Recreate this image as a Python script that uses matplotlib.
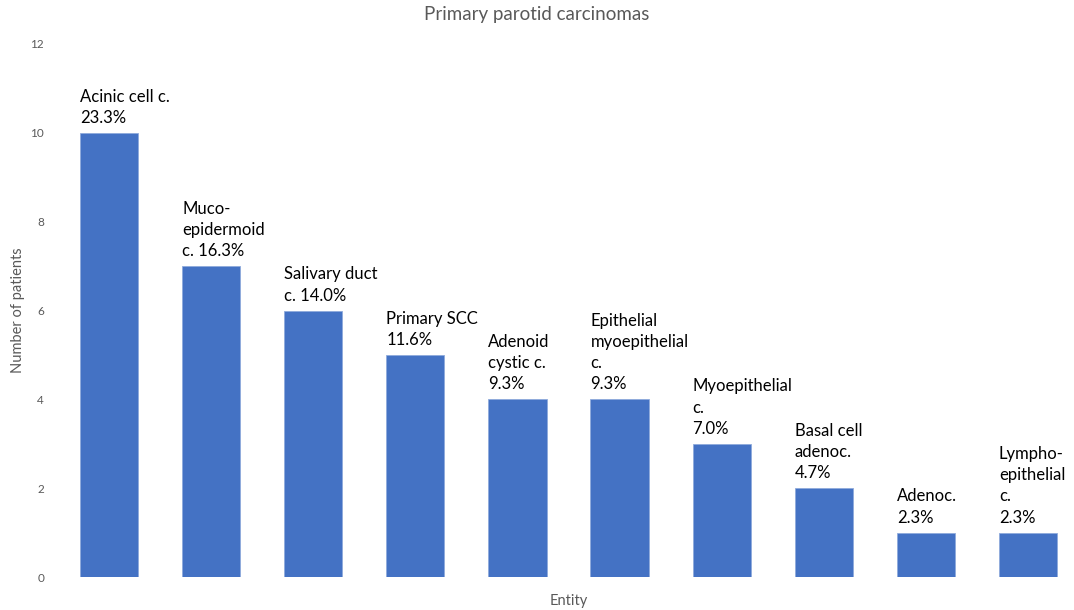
import matplotlib.pyplot as plt

plt.rcParams['font.family'] = ['Lato', 'DejaVu Sans']

# Распределение первичных карцином околоушной железы
entities = ['Acinic cell c.', 'Mucoepidermoid c.', 'Salivary duct c.', 'Primary SCC',
            'Adenoid cystic c.', 'Epithelial myoepithelial c.', 'Myoepithelial c.',
            'Basal cell adenoc.', 'Adenoc.', 'Lymphoepithelial c.']
patients = [10, 7, 6, 5, 4, 4, 3, 2, 1, 1]
percent = [23.3, 16.3, 14.0, 11.6, 9.3, 9.3, 7.0, 4.7, 2.3, 2.3]
# Подписи с переносами строк; процент дописывается в конец
label_text = ['Acinic cell c.\n', 'Muco-\nepidermoid\nc. ', 'Salivary duct\nc. ', 'Primary SCC\n',
              'Adenoid\ncystic c.\n', 'Epithelial\nmyoepithelial\nc.\n', 'Myoepithelial\nc.\n',
              'Basal cell\nadenoc.\n', 'Adenoc.\n', 'Lympho-\nepithelial\nc.\n']

fig = plt.figure(figsize=(10.74, 6.10), dpi=100)
ax = fig.add_axes([58 / 1074, 33 / 610, 1021 / 1074, 533 / 610])

x = range(len(patients))
bars = ax.bar(x, patients, width=0.57, color='#4472C4', edgecolor='#8FAADC', linewidth=0.6)

for i, b in enumerate(bars):
    txt = label_text[i] + f'{percent[i]:.1f}%'
    ax.annotate(txt, (b.get_x(), b.get_height()), xytext=(0, 5), textcoords='offset points',
                ha='left', va='bottom', fontsize=12, color='black', linespacing=1.4)

ax.set_ylim(0, 12)
ax.set_xlim(-0.5, 9.5)
ax.set_yticks(range(0, 13, 2))
ax.set_xticks([])
ax.tick_params(axis='y', length=0, labelsize=8.5, labelcolor='#595959', pad=10)
for s in ax.spines.values():
    s.set_visible(False)

ax.set_ylabel('Number of patients', fontsize=10.5, color='#595959')
ax.yaxis.set_label_coords(-0.032, 0.5)
ax.set_xlabel('Entity', fontsize=10.5, color='#595959', labelpad=12)
fig.text(0.5, 0.99, 'Primary parotid carcinomas', ha='center', va='top', fontsize=13.5, color='#595959')

plt.savefig('out.png', dpi=100)
